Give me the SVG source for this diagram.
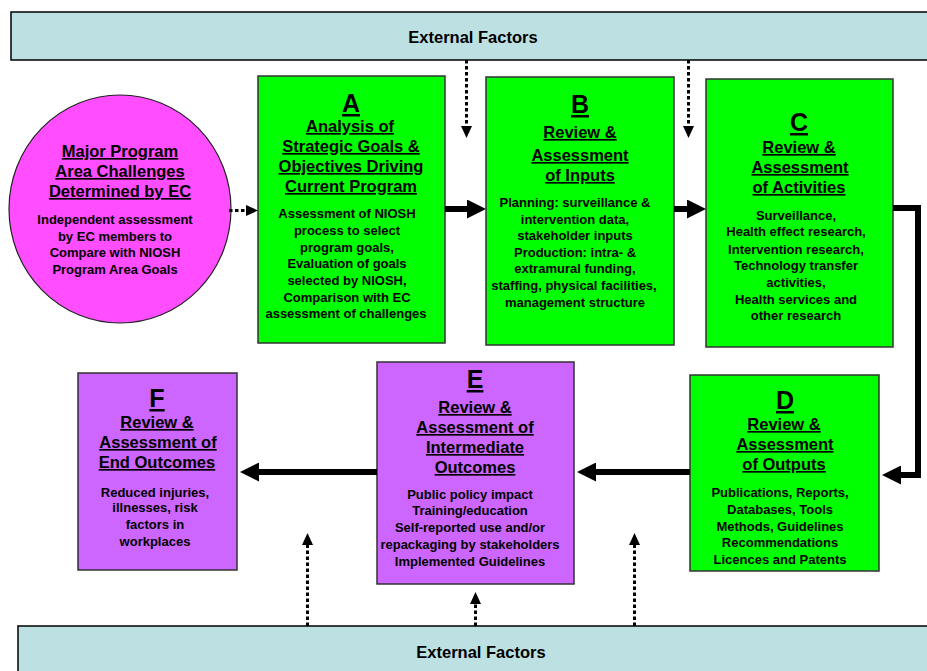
<svg xmlns="http://www.w3.org/2000/svg" width="927" height="671" viewBox="0 0 927 671">
<style>
text{font-family:"Liberation Sans",Arial,sans-serif;font-weight:bold;fill:#000;text-anchor:middle}
.ef{font-size:16.5px}
.let{font-size:25px;text-decoration:underline}
.ttl{font-size:16.5px;text-decoration:underline}
.bd{font-size:13px}
.bar{fill:#bde0e3;stroke:#000;stroke-width:1.5}
.green{fill:#00ff00;stroke:#333;stroke-width:1.5}
.purple{fill:#cc66ff;stroke:#333;stroke-width:1.5}
.thick{fill:none;stroke:#000;stroke-width:6}
.dot{fill:none;stroke:#000;stroke-width:3;stroke-dasharray:3.5 2.5}
</style>
<defs>
<marker id="big" markerUnits="userSpaceOnUse" markerWidth="19" markerHeight="19" refX="0" refY="9.5" orient="auto"><path d="M0,0 L19,9.5 L0,19 z" fill="#000"/></marker>
<marker id="small" markerUnits="userSpaceOnUse" markerWidth="12" markerHeight="11" refX="0" refY="5.5" orient="auto"><path d="M0,0 L12,5.5 L0,11 z" fill="#000"/></marker>
</defs>

<g id="ext-top">
<rect class="bar" x="11" y="12" width="930" height="48"/>
<text class="ef" x="473" y="43">External Factors</text>
</g>
<g id="ext-bottom">
<rect class="bar" x="18" y="626" width="930" height="60"/>
<text class="ef" x="481" y="658">External Factors</text>
</g>

<g id="challenges">
<ellipse cx="120" cy="209" rx="111" ry="114" fill="#ff4dff" stroke="#222" stroke-width="1.2"/>
<text class="ttl" x="120" y="157">Major Program</text>
<text class="ttl" x="120" y="177">Area Challenges</text>
<text class="ttl" x="120" y="197">Determined by EC</text>
<text class="bd" x="115" y="224">Independent assessment</text>
<text class="bd" x="115" y="241">by EC members to</text>
<text class="bd" x="115" y="257">Compare with NIOSH</text>
<text class="bd" x="115" y="274">Program Area Goals</text>
</g>

<g id="A">
<rect class="green" x="258" y="76" width="187" height="267"/>
<text class="let" x="351" y="112">A</text>
<text class="ttl" x="350" y="132">Analysis of</text>
<text class="ttl" x="351" y="152">Strategic Goals &amp;</text>
<text class="ttl" x="351" y="172">Objectives Driving</text>
<text class="ttl" x="351" y="192">Current Program</text>
<text class="bd" x="347" y="218">Assessment of NIOSH</text>
<text class="bd" x="347" y="235">process to select</text>
<text class="bd" x="347" y="252">program goals,</text>
<text class="bd" x="347" y="268">Evaluation of goals</text>
<text class="bd" x="347" y="285">selected by NIOSH,</text>
<text class="bd" x="347" y="302">Comparison with EC</text>
<text class="bd" x="346" y="318">assessment of challenges</text>
</g>

<g id="B">
<rect class="green" x="486" y="77" width="188" height="268"/>
<text class="let" x="580" y="113">B</text>
<text class="ttl" x="580" y="138">Review &amp;</text>
<text class="ttl" x="580" y="161">Assessment</text>
<text class="ttl" x="580" y="181">of Inputs</text>
<text class="bd" x="575" y="207">Planning: surveillance &amp;</text>
<text class="bd" x="575" y="224">intervention data,</text>
<text class="bd" x="575" y="240">stakeholder inputs</text>
<text class="bd" x="575" y="257">Production: intra- &amp;</text>
<text class="bd" x="575" y="273">extramural funding,</text>
<text class="bd" x="574" y="290">staffing, physical facilities,</text>
<text class="bd" x="575" y="307">management structure</text>
</g>

<g id="C">
<rect class="green" x="706" y="79" width="187" height="268"/>
<text class="let" x="799" y="131">C</text>
<text class="ttl" x="799" y="153">Review &amp;</text>
<text class="ttl" x="800" y="173">Assessment</text>
<text class="ttl" x="799" y="193">of Activities</text>
<text class="bd" x="796" y="220">Surveillance,</text>
<text class="bd" x="796" y="236">Health effect research,</text>
<text class="bd" x="796" y="254">Intervention research,</text>
<text class="bd" x="796" y="270">Technology transfer</text>
<text class="bd" x="796" y="287">activities,</text>
<text class="bd" x="796" y="304">Health services and</text>
<text class="bd" x="796" y="320">other research</text>
</g>

<g id="D">
<rect class="green" x="690" y="375" width="189" height="196"/>
<text class="let" x="785" y="409">D</text>
<text class="ttl" x="784" y="430">Review &amp;</text>
<text class="ttl" x="785" y="450">Assessment</text>
<text class="ttl" x="784" y="470">of Outputs</text>
<text class="bd" x="780" y="497">Publications, Reports,</text>
<text class="bd" x="780" y="514">Databases, Tools</text>
<text class="bd" x="780" y="531">Methods, Guidelines</text>
<text class="bd" x="780" y="547">Recommendations</text>
<text class="bd" x="780" y="564">Licences and Patents</text>
</g>

<g id="E">
<rect class="purple" x="377" y="362" width="197" height="222"/>
<text class="let" x="475" y="388">E</text>
<text class="ttl" x="475" y="413">Review &amp;</text>
<text class="ttl" x="475" y="433">Assessment of</text>
<text class="ttl" x="475" y="453">Intermediate</text>
<text class="ttl" x="475" y="473">Outcomes</text>
<text class="bd" x="470" y="499">Public policy impact</text>
<text class="bd" x="470" y="515">Training/education</text>
<text class="bd" x="470" y="532">Self-reported use and/or</text>
<text class="bd" x="470" y="549">repackaging by stakeholders</text>
<text class="bd" x="470" y="566">Implemented Guidelines</text>
</g>

<g id="F">
<rect class="purple" x="78" y="373" width="159" height="197"/>
<text class="let" x="157" y="407">F</text>
<text class="ttl" x="157" y="428">Review &amp;</text>
<text class="ttl" x="158" y="448">Assessment of</text>
<text class="ttl" x="157" y="468">End Outcomes</text>
<text class="bd" x="155" y="497">Reduced injuries,</text>
<text class="bd" x="155" y="512">illnesses, risk</text>
<text class="bd" x="155" y="529">factors in</text>
<text class="bd" x="155" y="546">workplaces</text>
</g>

<g id="connectors">
<path class="thick" d="M445,209 H467" marker-end="url(#big)"/>
<path class="thick" d="M674,209 H687" marker-end="url(#big)"/>
<path class="thick" d="M893,208 H918 V475 H901" marker-end="url(#big)"/>
<path class="thick" d="M690,472 H596" marker-end="url(#big)"/>
<path class="thick" d="M377,472 H259" marker-end="url(#big)"/>
<path class="dot" d="M229,210.5 H246" marker-end="url(#small)"/>
<path class="dot" d="M466.5,60 V126" marker-end="url(#small)"/>
<path class="dot" d="M688.5,60 V126" marker-end="url(#small)"/>
<path class="dot" d="M307.5,626 V545" marker-end="url(#small)"/>
<path class="dot" d="M475.5,626 V604" marker-end="url(#small)"/>
<path class="dot" d="M634.5,626 V545" marker-end="url(#small)"/>
</g>
</svg>
